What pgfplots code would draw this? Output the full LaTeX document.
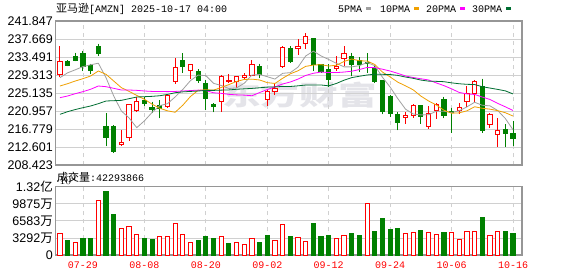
\documentclass[border=0pt]{standalone}
\usepackage{fontspec}
\setmainfont{Liberation Sans}
\newfontfamily\cjk{Noto Sans CJK SC}
\newfontfamily\mono{Liberation Mono}
\usepackage{pgfplots}
\usepackage{pgfplotstable}
\pgfplotsset{compat=1.18}
\usepgfplotslibrary{statistics}
\definecolor{upred}{RGB}{255,0,0}
\definecolor{dngreen}{RGB}{0,128,0}
\definecolor{ma5}{RGB}{160,160,160}
\definecolor{ma10}{RGB}{240,160,0}
\definecolor{ma20}{RGB}{255,0,255}
\definecolor{ma30}{RGB}{0,110,50}
\definecolor{framec}{RGB}{150,150,150}
\definecolor{gridc}{RGB}{208,208,208}
\definecolor{wm}{RGB}{228,228,233}

% i open high low close
\pgfplotstableread{
i o h l c
0 229.47 236.04 228.85 232.49
1 232.49 232.72 231.33 231.56
2 233.57 234.50 232.49 232.79
3 234.27 234.96 230.24 231.17
4 231.56 231.94 229.62 230.40
5 235.89 236.59 233.72 234.34
6 217.32 220.49 212.76 214.77
7 217.40 217.63 211.29 211.52
8 213.14 216.47 212.99 213.76
9 214.92 222.66 213.92 222.35
10 221.11 224.28 220.80 223.05
11 223.36 224.21 222.12 222.66
12 221.81 223.12 220.49 221.35
13 222.20 223.43 219.25 221.65
14 222.04 224.98 221.73 224.52
15 227.69 233.34 227.15 230.94
16 232.72 234.34 229.85 231.33
17 230.40 231.94 228.46 231.64
18 230.16 230.63 227.46 228.07
19 227.30 228.23 221.11 223.82
20 222.58 222.74 220.65 222.04
21 223.12 229.31 220.80 228.85
22 227.69 229.62 227.38 228.07
23 227.69 229.08 226.37 228.85
24 228.70 229.85 228.31 229.16
25 229.31 232.87 229.08 231.64
26 231.40 231.94 228.54 229.47
27 223.74 225.75 222.04 225.45
28 225.45 227.15 224.67 226.14
29 231.40 236.04 230.86 235.81
30 235.43 236.00 232.10 232.41
31 235.43 237.75 233.96 235.89
32 236.66 239.14 235.27 238.36
33 237.75 237.90 230.24 231.79
34 231.64 231.79 229.85 230.24
35 230.63 231.79 226.53 228.31
36 230.86 233.72 230.24 231.40
37 233.18 236.04 231.40 234.27
38 233.72 234.50 229.00 231.79
39 232.72 233.49 230.01 231.64
40 232.33 234.34 229.85 231.94
41 230.78 231.40 227.53 227.77
42 228.07 228.20 220.18 220.80
43 224.36 224.67 219.56 220.34
44 220.03 220.72 216.47 218.25
45 219.41 220.72 218.02 219.80
46 219.80 222.66 219.25 222.12
47 222.12 222.20 218.02 219.72
48 217.47 222.12 216.70 220.49
49 221.11 222.89 219.02 222.35
50 223.59 224.28 219.25 219.80
51 220.88 221.73 215.93 220.72
52 221.03 222.89 220.18 221.73
53 223.05 226.76 221.88 224.98
54 225.06 228.23 222.74 227.69
55 226.53 228.46 215.93 216.32
56 217.86 220.57 217.09 220.03
57 215.54 219.41 212.60 216.32
58 216.62 217.86 212.60 215.70
59 215.70 218.64 212.83 214.61
}\candles

\pgfplotsset{
  upc/.style={draw=upred, fill=white, line width=1pt},
  dnc/.style={draw=dngreen, fill=dngreen, line width=1pt},
}

\begin{document}
\begin{tikzpicture}[x=1pt,y=1pt]
\useasboundingbox (0,0) rectangle (578,276);
\fill[white] (0,0) rectangle (578,276);

% watermark
\node[text=wm, font=\fontsize{27pt}{27pt}\selectfont\cjk\bfseries, xscale=1.43] at (299.5,181) {东方财富};

\begin{axis}[
  at={(55.5pt,111pt)}, anchor=south west, scale only axis,
  width=466.5pt, height=144pt,
  xmin=-0.58, xmax=60.17, ymin=208.423, ymax=241.847,
  xtick={3,11,19,27,35,43,51,59}, xticklabels={},
  ytick={208.423,212.601,216.779,220.957,225.135,229.313,233.491,237.669,241.847},
  yticklabels={208.423,212.601,216.779,220.957,225.135,229.313,233.491,237.669,241.847},
  xmajorgrids, ymajorgrids,
  x grid style={gridc, line width=0.8pt, dash pattern=on 4pt off 4pt},
  y grid style={gridc, line width=0.8pt},
  axis line style={framec, line width=1.2pt},
  major tick length=0pt,
  tick label style={font=\fontsize{12.5pt}{13pt}\selectfont},
  yticklabel style={inner sep=0pt, xshift=-2.5pt},
  boxplot/draw direction=y, boxplot/box extend=0.55, boxplot/whisker extend=0,
]
\pgfplotsinvokeforeach{0,...,59}{
  \pgfplotstablegetelem{#1}{o}\of\candles \edef\vo{\pgfplotsretval}
  \pgfplotstablegetelem{#1}{h}\of\candles \edef\vh{\pgfplotsretval}
  \pgfplotstablegetelem{#1}{l}\of\candles \edef\vl{\pgfplotsretval}
  \pgfplotstablegetelem{#1}{c}\of\candles \edef\vc{\pgfplotsretval}
  \pgfmathsetmacro\lo{min(\vo,\vc)}
  \pgfmathsetmacro\hi{max(\vo,\vc)}
  \pgfmathtruncatemacro\isup{\vc>=\vo}
  \ifnum\isup=1 \def\cs{upc}\else\def\cs{dnc}\fi
  \edef\doplot{\noexpand\addplot[\cs, boxplot prepared={draw position=#1, lower whisker=\vl, lower quartile=\lo, median=\hi, upper quartile=\hi, upper whisker=\vh}] coordinates {};}
  \doplot
}
% MA5
\addplot[ma5, line width=0.8pt] coordinates {
(0,228.70)(1,229.82)(2,230.52)(3,231.26)(4,231.68)(5,232.05)(6,228.69)(7,224.44)(8,220.96)(9,219.35)
(10,217.09)(11,218.67)(12,220.63)(13,222.21)(14,222.65)(15,224.22)(16,225.96)(17,228.02)(18,229.30)(19,229.16)
(20,227.38)(21,226.88)(22,226.17)(23,226.33)(24,227.39)(25,229.31)(26,229.44)(27,228.91)(28,228.37)(29,229.70)
(30,229.86)(31,231.14)(32,233.72)(33,234.85)(34,233.74)(35,232.92)(36,232.02)(37,231.20)(38,231.20)(39,231.48)
(40,232.21)(41,231.48)(42,228.79)(43,226.50)(44,223.82)(45,221.39)(46,220.26)(47,220.05)(48,220.08)(49,220.90)
(50,220.90)(51,220.62)(52,221.02)(53,221.92)(54,222.98)(55,222.29)(56,222.15)(57,221.07)(58,219.21)(59,216.60)};
% MA10
\addplot[ma10, line width=0.8pt] coordinates {
(0,226.76)(1,227.30)(2,227.92)(3,228.46)(4,229.08)(5,230.24)(6,229.47)(7,227.92)(8,226.37)(9,225.52)
(10,224.57)(11,223.68)(12,222.54)(13,221.59)(14,221.00)(15,220.66)(16,222.31)(17,224.33)(18,225.76)(19,225.90)
(20,225.80)(21,226.42)(22,227.09)(23,227.81)(24,228.28)(25,228.35)(26,228.16)(27,227.54)(28,227.35)(29,228.55)
(30,229.59)(31,230.29)(32,231.32)(33,231.61)(34,231.72)(35,231.39)(36,231.58)(37,232.46)(38,233.03)(39,232.61)
(40,232.56)(41,231.75)(42,230.00)(43,228.85)(44,227.65)(45,226.80)(46,225.87)(47,224.42)(48,223.29)(49,222.36)
(50,221.14)(51,220.44)(52,220.53)(53,221.00)(54,221.94)(55,221.59)(56,221.38)(57,221.04)(58,220.56)(59,219.79)};
% MA20
\addplot[ma20, line width=0.8pt] coordinates {
(0,224.05)(1,224.44)(2,224.98)(3,225.45)(4,226.00)(5,226.76)(6,226.60)(7,226.22)(8,225.83)(9,225.83)
(10,225.75)(11,225.60)(12,225.50)(13,225.50)(14,225.45)(15,225.50)(16,225.60)(17,225.70)(18,225.80)(19,225.71)
(20,225.19)(21,225.05)(22,224.82)(23,224.70)(24,224.64)(25,224.50)(26,225.24)(27,225.93)(28,226.55)(29,227.23)
(30,227.69)(31,228.36)(32,229.21)(33,229.71)(34,230.00)(35,229.87)(36,229.87)(37,230.00)(38,230.19)(39,230.58)
(40,231.07)(41,231.02)(42,230.66)(43,230.23)(44,229.69)(45,229.09)(46,228.73)(47,228.44)(48,228.16)(49,227.48)
(50,226.85)(51,226.10)(52,225.26)(53,224.92)(54,224.80)(55,224.20)(56,223.63)(57,222.73)(58,221.93)(59,221.07)};
% MA30
\addplot[ma30, line width=0.8pt] coordinates {
(0,220.18)(1,220.80)(2,221.30)(3,221.73)(4,222.12)(5,222.66)(6,223.28)(7,223.35)(8,223.43)(9,223.82)
(10,224.20)(11,224.28)(12,224.36)(13,224.50)(14,224.80)(15,225.20)(16,225.40)(17,225.50)(18,225.60)(19,225.74)
(20,225.74)(21,225.80)(22,225.85)(23,226.00)(24,226.10)(25,226.20)(26,226.35)(27,226.50)(28,226.55)(29,226.66)
(30,226.65)(31,226.80)(32,226.98)(33,227.00)(34,227.00)(35,226.80)(36,227.35)(37,228.11)(38,228.71)(39,229.02)
(40,229.32)(41,229.49)(42,229.47)(43,229.43)(44,229.22)(45,228.84)(46,228.54)(47,228.14)(48,227.89)(49,227.84)
(50,227.76)(51,227.49)(52,227.28)(53,227.15)(54,227.10)(55,226.59)(56,226.28)(57,225.97)(58,225.63)(59,224.92)};
\end{axis}

\begin{axis}[
  at={(55.5pt,21pt)}, anchor=south west, scale only axis,
  width=466.5pt, height=68.3pt,
  xmin=-0.58, xmax=60.17, ymin=0, ymax=13167,
  xtick={3,11,19,27,35,43,51,59},
  xticklabels={07-29,08-08,08-20,09-02,09-12,09-24,10-06,10-16},
  ytick={0,3292,6583,9875,13167},
  yticklabels={0,3292{\cjk 万},6583{\cjk 万},9875{\cjk 万},1.32{\cjk 亿}},
  xmajorgrids, ymajorgrids,
  x grid style={gridc, line width=0.8pt, dash pattern=on 4pt off 4pt},
  y grid style={gridc, line width=0.8pt},
  axis line style={framec, line width=1.2pt},
  major tick length=0pt,
  tick label style={font=\fontsize{12.5pt}{13pt}\selectfont},
  yticklabel style={inner sep=0pt, xshift=-2.5pt},
  xticklabel style={font=\mono\fontsize{10pt}{10pt}\selectfont, text=upred, anchor=north, inner sep=0pt, yshift=-7pt},
]
\addplot[ybar, bar width=4.2pt, bar shift=0pt, draw=upred, fill=white, line width=1pt] coordinates {
(0,4175)(2,2441)(5,10534)(8,5138)(9,5524)(10,3982)(13,3597)(14,3597)(15,6102)(16,3982)(17,2441)
(21,3597)(23,2441)(24,2055)(25,3212)(28,2890)(29,5909)(31,3404)(32,2698)(36,3212)(37,3790)(40,10020)
(45,4175)(46,4368)(48,4368)(49,3982)(51,4368)(52,3019)(53,4625)(54,4625)(56,3790)(57,4625)};
\addplot[ybar, bar width=4.2pt, bar shift=0pt, draw=dngreen, fill=dngreen, line width=1pt] coordinates {
(1,2890)(3,3276)(4,3276)(6,12332)(7,7900)(11,3212)(12,3083)(18,2890)(19,3597)(20,3276)(22,2312)
(26,2505)(27,3790)(30,3661)(33,6166)(34,3661)(35,3854)(38,4175)(39,3854)(41,4625)(42,7130)(43,4946)
(44,5203)(47,4817)(50,4432)(55,7322)(58,4625)(59,4229)};
\end{axis}

% title
\node[anchor=west, inner sep=0pt] at (56,267) {{\cjk\fontsize{11pt}{12pt}\selectfont 亚马逊}{\mono\fontsize{10pt}{12pt}\selectfont [AMZN] 2025-10-17 04:00}};
% legend
\node[anchor=west, inner sep=0pt, font=\mono\fontsize{10pt}{12pt}\selectfont] at (338,267) {5PMA};
\node[anchor=west, inner sep=0pt, font=\mono\fontsize{10pt}{12pt}\selectfont] at (380,267) {10PMA};
\node[anchor=west, inner sep=0pt, font=\mono\fontsize{10pt}{12pt}\selectfont] at (426,267) {20PMA};
\node[anchor=west, inner sep=0pt, font=\mono\fontsize{10pt}{12pt}\selectfont] at (472,267) {30PMA};
\node[anchor=west, inner sep=0pt] at (366,267) {\textcolor{ma5}{\rule{5pt}{3pt}}};
\node[anchor=west, inner sep=0pt] at (414,267) {\textcolor{ma10}{\rule{5pt}{3pt}}};
\node[anchor=west, inner sep=0pt] at (460,267) {\textcolor{ma20}{\rule{5pt}{3pt}}};
\node[anchor=west, inner sep=0pt] at (506,267) {\textcolor{ma30}{\rule{5pt}{3pt}}};
% volume label
\node[anchor=west, inner sep=0pt] at (57,99) {{\cjk\fontsize{11pt}{12pt}\selectfont 成交量}{\mono\fontsize{10pt}{12pt}\selectfont :42293866}};
\end{tikzpicture}
\end{document}
